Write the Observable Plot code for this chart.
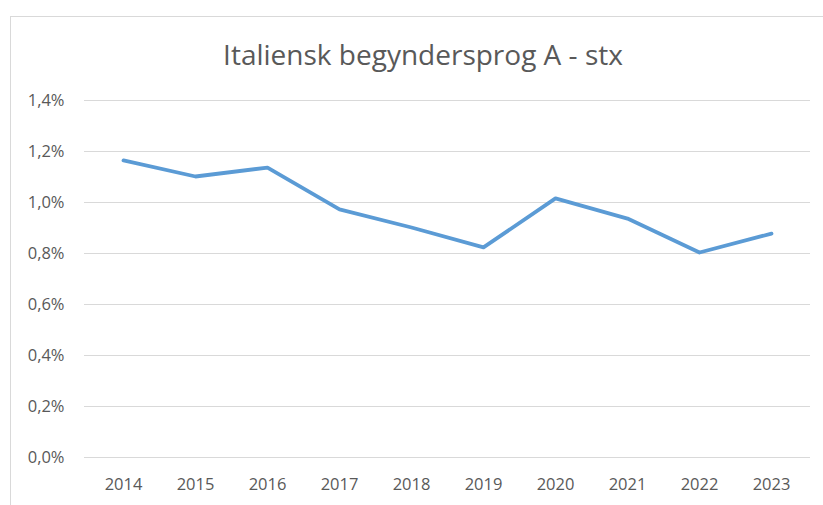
<!DOCTYPE html>
<html>
<head>
<meta charset="utf-8">
<script src="https://cdn.jsdelivr.net/npm/d3@7"></script>
<script src="https://cdn.jsdelivr.net/npm/@observablehq/plot@0.6"></script>
<style>
  html, body { margin: 0; padding: 0; background: #fff; width: 823px; height: 505px; overflow: hidden; }
  #frame { position: absolute; left: 10px; top: 16px; width: 900px; height: 600px; border-left: 1px solid #d9d9d9; border-top: 1px solid #d9d9d9; }
  #title { position: absolute; left: 0; width: 846px; top: 40px; line-height: 28px; text-align: center; font-family: "Open Sans", sans-serif; font-weight: 400; font-size: 28px; color: #595959; white-space: nowrap; }
  #chart { position: absolute; left: 0; top: 80px; }
</style>
</head>
<body>
<div id="frame"></div>
<div id="title">Italiensk begyndersprog A - stx</div>
<div id="chart"></div>
<script>
const years = ["2014","2015","2016","2017","2018","2019","2020","2021","2022","2023"];
const shares = [1.165, 1.102, 1.137, 0.973, 0.902, 0.824, 1.016, 0.937, 0.804, 0.878];
const yTicks = [0, 0.2, 0.4, 0.6, 0.8, 1.0, 1.2, 1.4];

const data = years.map((y, i) => ({year: y, share: shares[i]}));
const fmt = d => d.toFixed(1).replace(".", ",") + "%";

const plot = Plot.plot({
  width: 823,
  height: 425,
  marginLeft: 84,
  marginRight: 13,
  marginTop: 20,
  marginBottom: 48,
  style: { fontFamily: "Open Sans, sans-serif", fontSize: "16px", color: "#595959", background: "transparent" },
  x: { type: "point", domain: years, padding: 0.5, label: null },
  y: { domain: [0, 1.4], label: null },
  marks: [
    Plot.ruleY(yTicks, { stroke: "#d9d9d9", strokeWidth: 1, strokeOpacity: 1 }),
    Plot.axisY(yTicks, { tickSize: 0, tickPadding: 20, tickFormat: fmt, label: null, fontSize: 16.5, fill: "#595959" }),
    Plot.axisX({ tickSize: 0, tickPadding: 21, label: null, fontSize: 16.5, fill: "#595959" }),
    Plot.line(data, { x: "year", y: "share", stroke: "#5b9bd5", strokeWidth: 3.8, strokeLinejoin: "round", strokeLinecap: "round" })
  ]
});
document.getElementById("chart").appendChild(plot);
</script>
</body>
</html>
